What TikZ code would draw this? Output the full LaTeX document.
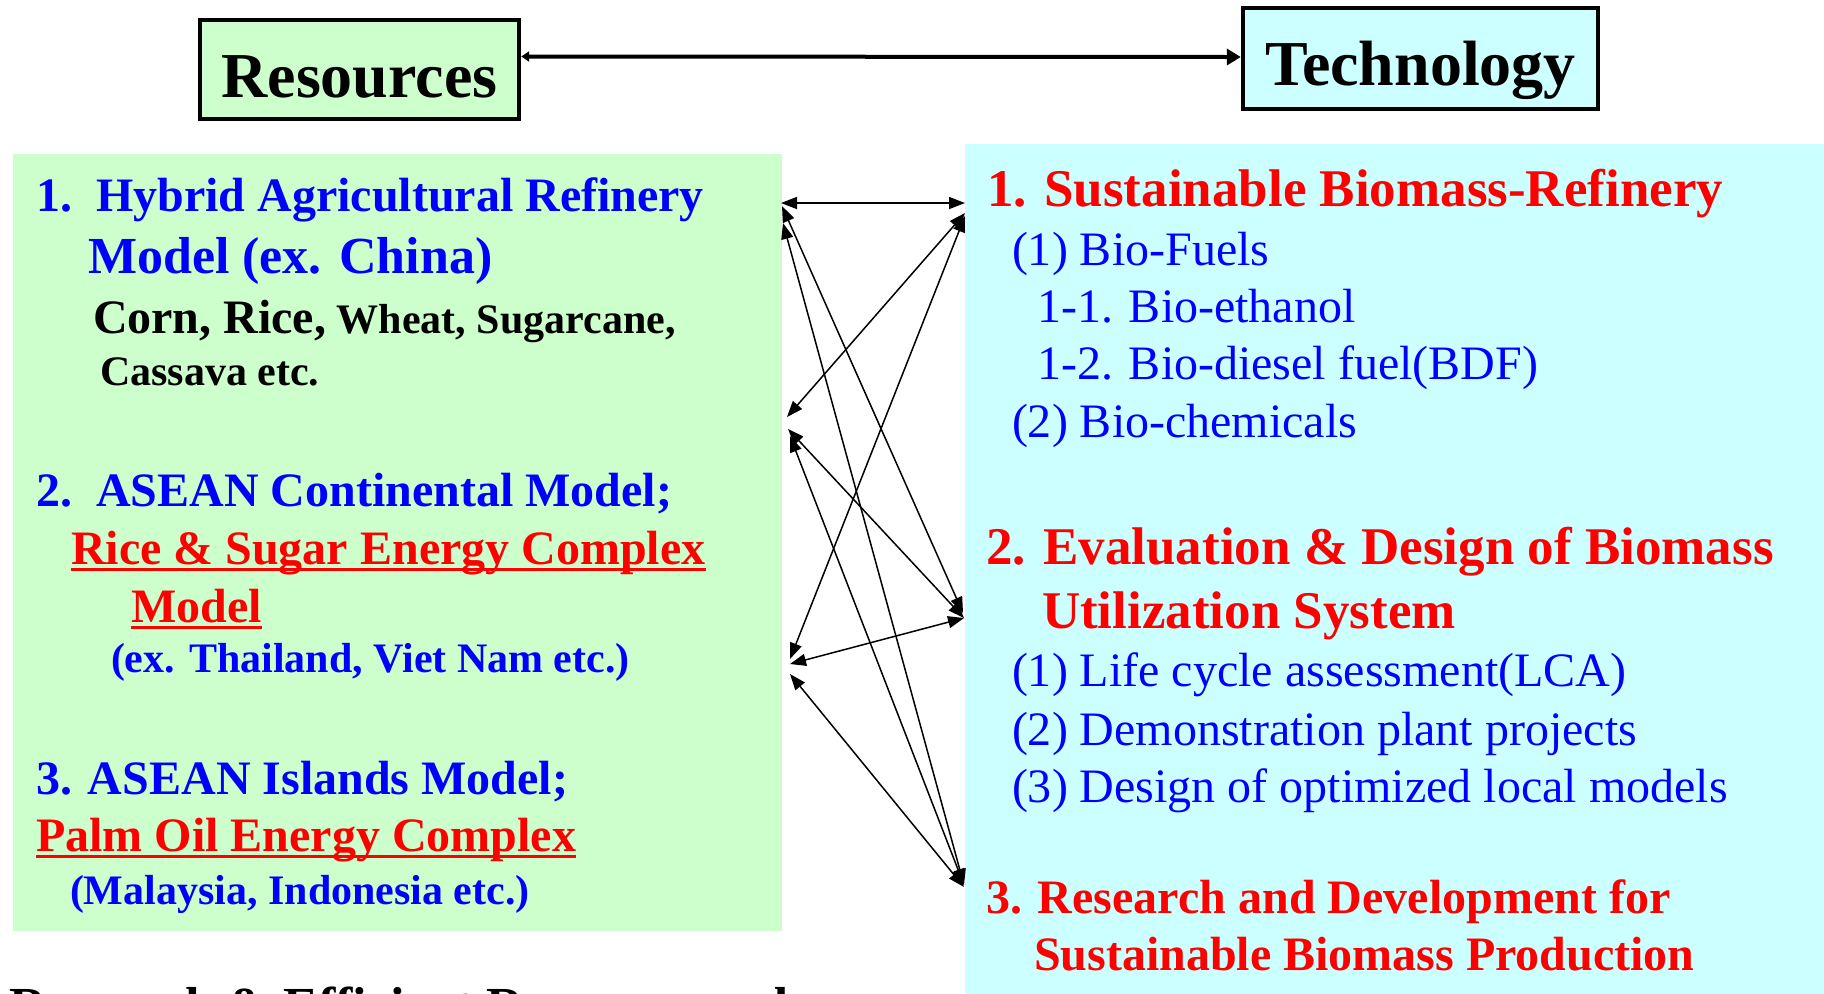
\documentclass[tikz,border=0pt]{standalone}
\usepackage{fontspec}
\setmainfont{Liberation Serif}
\usetikzlibrary{arrows.meta}
\definecolor{gfill}{HTML}{CCFFCC}
\definecolor{cfill}{HTML}{CCFFFF}
\definecolor{tblue}{HTML}{0000FF}
\definecolor{tred}{HTML}{FF0000}
\tikzset{
  txt/.style={anchor=base west, inner sep=0pt, outer sep=0pt},
  bt/.style={txt, font=\bfseries\fontsize{#1pt}{#1pt}\selectfont},
  rt/.style={txt, font=\fontsize{#1pt}{#1pt}\selectfont},
  uline/.style={tred, line width=1.5pt},
  link/.style={{Triangle[length=8pt,width=6pt]}-{Triangle[length=8pt,width=6pt]}, line width=0.75pt},
  titlebox/.style={draw=black, line width=2.2pt, inner sep=0pt},
}
\begin{document}
\begin{tikzpicture}[x=0.5pt,y=-0.5pt]
\path[use as bounding box] (0,0) rectangle (1824,993);
\clip (0,0) rectangle (1824,993);
% big panels
\fill[gfill] (13,154) rectangle (782,931);
\fill[cfill] (965,144) rectangle (1830,1000);
% title boxes
\node[titlebox, fill=gfill, minimum width=159.5pt, minimum height=49.5pt] (res) at (359.5,69.5) {};
\node[bt=32, anchor=base] (restext) at (359.5,97) {Resources};
\node[titlebox, fill=cfill, minimum width=177.5pt, minimum height=50.5pt] (tech) at (1420.5,58.5) {};
\node[bt=32, anchor=base] (techtext) at (1420.5,85) {Technology};
\draw[line width=2pt, {Triangle[length=4pt,width=5pt]}-{Triangle[length=7pt,width=8pt]}]
  ([yshift=6.5pt]res.east) -- ([yshift=0.75pt]tech.west);
% left panel text
\node[bt=24, tblue] (l1a) at (36,211) {1.\ \ Hybrid Agricultural Refinery};
\node[bt=26, tblue] (l1b) at (88,273) {Model (ex. China)};
\node[bt=24] (l1c) at (93,333) {Corn, Rice,{\fontsize{21pt}{21pt}\selectfont\ Wheat, Sugarcane,}};
\node[bt=21] (l1d) at (100,385) {Cassava etc.};
\node[bt=24, tblue] (l2a) at (36,506) {2.\ \ ASEAN Continental Model;};
\node[bt=24, tred] (l2b) at (71,564) {Rice \& Sugar Energy Complex};
\node[bt=24, tred] (l2c) at (131,622) {Model};
\node[bt=21, tblue] (l2d) at (111,672) {(ex. Thailand, Viet Nam etc.)};
\node[bt=24, tblue] (l3a) at (36,794) {3. ASEAN Islands Model;};
\node[bt=24, tred] (l3b) at (36,851) {Palm Oil Energy Complex};
\node[bt=21, tblue] (l3c) at (70,904) {(Malaysia, Indonesia etc.)};
\draw[uline] ([yshift=-2.5pt]l2b.base west) -- ([yshift=-2.5pt]l2b.base east);
\draw[uline] ([yshift=-2.5pt]l2c.base west) -- ([yshift=-2.5pt]l2c.base east);
\draw[uline] ([yshift=-2.5pt]l3b.base west) -- ([yshift=-2.5pt]l3b.base east);
% right panel text
\node[bt=26.5, tred] (r1a) at (987,206) {1. Sustainable Biomass-Refinery};
\node[rt=24, tblue] (r1b) at (1012,265) {(1) Bio-Fuels};
\node[rt=24, tblue] (r1c) at (1037,322) {1-1. Bio-ethanol};
\node[rt=24, tblue] (r1d) at (1037,379) {1-2. Bio-diesel fuel(BDF)};
\node[rt=24, tblue] (r1e) at (1012,437) {(2) Bio-chemicals};
\node[bt=26.5, tred] (r2a) at (986,564) {2. Evaluation \& Design of Biomass};
\node[bt=26.5, tred] (r2b) at (1042,628) {Utilization System};
\node[rt=24, tblue] (r2c) at (1012,686) {(1) Life cycle assessment(LCA)};
\node[rt=24, tblue] (r2d) at (1012,745) {(2) Demonstration plant projects};
\node[rt=24, tblue] (r2e) at (1012,802) {(3) Design of optimized local models};
\node[bt=24, tred] (r3a) at (986,913) {3. Research and Development for};
\node[bt=24, tred] (r3b) at (1034,970) {Sustainable Biomass Production};
% cut-off bottom line
\node[bt=26] (bottom) at (10,1023) {Research \& Efficient Resource and};
% connector end points
\coordinate (L1a) at (781,203);
\coordinate (L1b) at (782,206);
\coordinate (L1c) at (783,223);
\coordinate (L2a) at (787,417);
\coordinate (L2b) at (788,429);
\coordinate (L2c) at (790,436);
\coordinate (L3a) at (790,659);
\coordinate (L3b) at (790,664);
\coordinate (L3c) at (790,674);
\coordinate (R1a) at (965,203);
\coordinate (R1b) at (965,213);
\coordinate (R1c) at (965,216);
\coordinate (R2a) at (963,613);
\coordinate (R2b) at (964,618);
\coordinate (R3a) at (964,885);
\coordinate (R3b) at (964,887);
\draw[link] (L1a) -- (R1a);
\draw[link] (L1b) -- (R2a);
\draw[link] (L1c) -- (R3a);
\draw[link] (L2a) -- (R1b);
\draw[link] (L3a) -- (R1c);
\draw[link] (L2b) -- (R2b);
\draw[link] (L2c) -- (R3a);
\draw[link] (L3b) -- (R2b);
\draw[link] (L3c) -- (R3b);
\end{tikzpicture}
\end{document}
